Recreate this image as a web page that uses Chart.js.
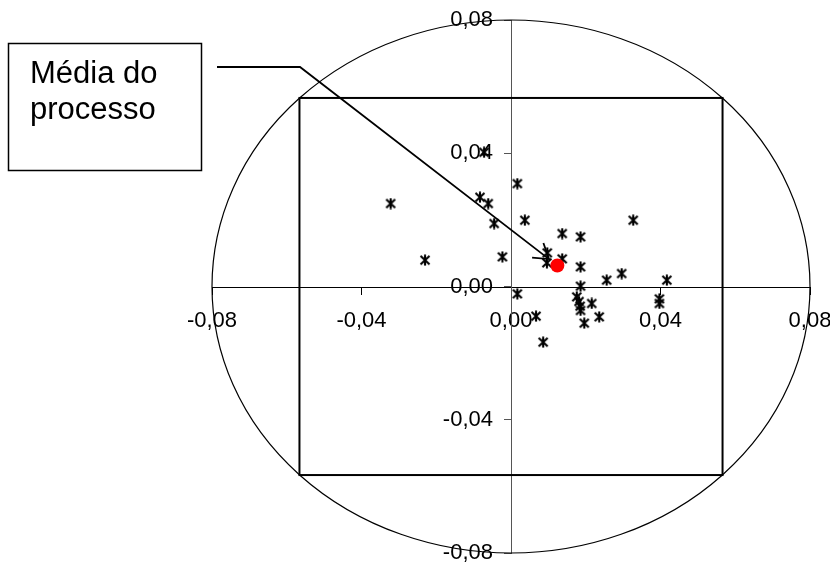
<!DOCTYPE html>
<html><head><meta charset="utf-8">
<script src="https://cdn.jsdelivr.net/npm/chart.js@4/dist/chart.umd.min.js"></script>
<style>html,body{margin:0;padding:0;background:#fff}#wrap{width:830px;height:563px;position:relative}</style>
</head><body><div id="wrap"><canvas id="c" width="830" height="563"></canvas></div>
<script>
// Sample points (x, y)
const xValues = [-0.0322,-0.0230,-0.0083,-0.0061,-0.0045,-0.0023,-0.0072,0.0017,0.0037,0.0017,
                 0.0137,0.0186,0.0097,0.0096,0.0137,0.0186,0.0186,0.0327,0.0296,0.0256,
                 0.0417,0.0176,0.0182,0.0185,0.0186,0.0216,0.0397,0.0397,0.0067,0.0236,
                 0.0196,0.0086];
const yValues = [0.0249,0.0079,0.0268,0.0249,0.0189,0.0089,0.0403,0.0309,0.0199,-0.0022,
                 0.0159,0.0149,0.0101,0.0071,0.0083,0.0059,0.0001,0.0199,0.0039,0.0019,
                 0.0019,-0.0031,-0.0045,-0.0059,-0.0072,-0.0051,-0.0037,-0.0051,-0.0089,-0.0091,
                 -0.0110,-0.0167];
// Process mean
const meanX = [0.0124];
const meanY = [0.0063];
// Axis ticks
const tickValues = [-0.08,-0.04,0,0.04,0.08];
// Limits
const circleRadius = 0.08;
const squareHalf = 0.0566;
const annotationLines = ['Média do','processo'];

const fmt = v => (Math.abs(v) < 1e-9 ? 0 : v).toFixed(2).replace('.', ',');

function starMarker(){
  const c = document.createElement('canvas');
  c.width = 12; c.height = 12;
  const g = c.getContext('2d');
  g.strokeStyle = '#000'; g.lineWidth = 2.1; g.lineCap = 'butt';
  g.beginPath();
  g.moveTo(1.5,1.8); g.lineTo(10.5,10.2);
  g.moveTo(10.5,1.8); g.lineTo(1.5,10.2);
  g.moveTo(6,0.5); g.lineTo(6,11.5);
  g.stroke();
  return c;
}

const overlay = {
  id: 'overlay',
  beforeDatasetsDraw(chart){
    const {ctx, scales:{x, y}} = chart;
    const cx = x.getPixelForValue(0), cy = y.getPixelForValue(0);
    const rx = x.getPixelForValue(circleRadius) - cx;
    const ry = cy - y.getPixelForValue(circleRadius);
    ctx.save();
    ctx.strokeStyle = '#000';
    ctx.lineWidth = 1.2;
    ctx.beginPath(); ctx.ellipse(cx, cy, rx, ry, 0, 0, 2*Math.PI); ctx.stroke();
    const l = x.getPixelForValue(-squareHalf), r = x.getPixelForValue(squareHalf);
    const t = y.getPixelForValue(squareHalf), b = y.getPixelForValue(-squareHalf);
    ctx.lineWidth = 2;
    ctx.strokeRect(l, t, r - l, b - t);
    ctx.restore();
  },
  afterDatasetsDraw(chart){
    const {ctx, scales:{x, y}} = chart;
    ctx.save();
    // text box
    ctx.strokeStyle = '#000'; ctx.lineWidth = 1.5;
    ctx.fillStyle = '#fff';
    ctx.fillRect(8.5, 43.5, 193, 127);
    ctx.strokeRect(8.5, 43.5, 193, 127);
    ctx.fillStyle = '#000';
    ctx.font = '31px "Liberation Sans", Arial, sans-serif';
    ctx.textBaseline = 'alphabetic';
    ctx.fillText(annotationLines[0], 30, 83);
    ctx.fillText(annotationLines[1], 30, 119);
    // arrow to mean
    const mx = x.getPixelForValue(meanX[0]), my = y.getPixelForValue(meanY[0]);
    const sx = 300, sy = 67;
    const dx = mx - sx, dy = my - sy, len = Math.hypot(dx, dy);
    const ux = dx/len, uy = dy/len;
    const tx = mx - ux*10.5, ty = my - uy*10.5;
    ctx.lineWidth = 1.8;
    ctx.beginPath();
    ctx.moveTo(217, sy); ctx.lineTo(sx, sy); ctx.lineTo(tx, ty);
    ctx.stroke();
    const ang = Math.atan2(-uy, -ux), wing = 17, spread = 33*Math.PI/180;
    ctx.beginPath();
    ctx.moveTo(tx + wing*Math.cos(ang+spread), ty + wing*Math.sin(ang+spread));
    ctx.lineTo(tx, ty);
    ctx.lineTo(tx + wing*Math.cos(ang-spread), ty + wing*Math.sin(ang-spread));
    ctx.stroke();
    ctx.restore();
  }
};

const tickFont = {family: '"Liberation Sans", Arial, sans-serif', size: 22};
const zeroFit = s => {
  if (s.isHorizontal()) s.height = 0; else s.width = 0;
  s.paddingLeft = 0; s.paddingRight = 0; s.paddingTop = 0; s.paddingBottom = 0;
};

new Chart(document.getElementById('c'), {
  type: 'scatter',
  data: {
    datasets: [
      {
        label: 'Amostras',
        data: xValues.map((v, i) => ({x: v, y: yValues[i]})),
        pointStyle: starMarker(),
        pointRadius: 6,
        order: 2
      },
      {
        label: 'Média',
        data: meanX.map((v, i) => ({x: v, y: meanY[i]})),
        pointStyle: 'circle',
        pointRadius: 7,
        backgroundColor: '#ff0000',
        borderColor: '#ff0000',
        borderWidth: 0,
        order: 1
      }
    ]
  },
  options: {
    responsive: false,
    devicePixelRatio: 1,
    animation: false,
    layout: {padding: {left: 212, right: 20, top: 20, bottom: 10}},
    plugins: {legend: {display: false}, tooltip: {enabled: false}},
    scales: {
      x: {
        type: 'linear', min: -0.08, max: 0.08,
        position: 'center',
        afterBuildTicks: s => { s.ticks = tickValues.map(v => ({value: v})); },
        afterFit: zeroFit,
        ticks: {callback: fmt, font: tickFont, color: '#000', maxRotation: 0, autoSkip: false, padding: 14},
        grid: {drawOnChartArea: false, drawTicks: true, tickLength: 7, tickColor: '#000', color: '#000'},
        border: {display: true, color: '#000', width: 1}
      },
      y: {
        type: 'linear', min: -0.08, max: 0.08,
        position: 'center',
        afterBuildTicks: s => { s.ticks = tickValues.map(v => ({value: v})); },
        afterFit: zeroFit,
        ticks: {callback: fmt, font: tickFont, color: '#000', autoSkip: false, padding: 11},
        grid: {drawOnChartArea: false, drawTicks: true, tickLength: 7, tickColor: '#555', color: '#555'},
        border: {display: true, color: '#555', width: 1}
      }
    }
  },
  plugins: [overlay]
});
</script>
</body></html>
